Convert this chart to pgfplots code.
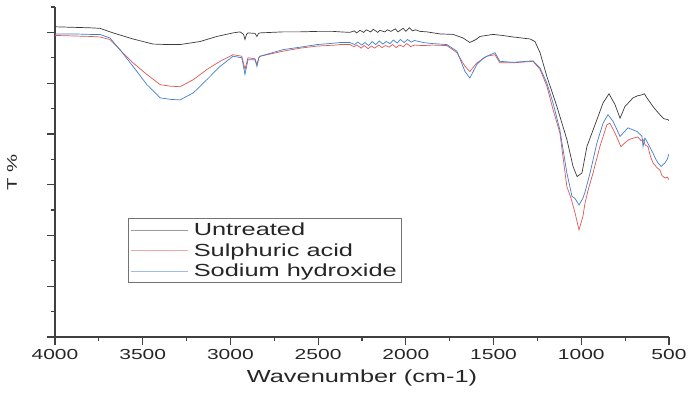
\documentclass[border=0pt]{standalone}
\usepackage{fontspec}
\setmainfont{Liberation Sans}[FakeStretch=1.45]
\usepackage{pgfplots}
\pgfplotsset{compat=1.18}
\definecolor{cU}{HTML}{3A3A3A}
\definecolor{cS}{HTML}{E05555}
\definecolor{cN}{HTML}{3F7FCF}
\newcommand{\lph}{\vphantom{Sdhyp}}
\begin{document}
\begin{tikzpicture}
\useasboundingbox (-55pt,-56pt) rectangle (634pt,337pt);
\begin{axis}[
  at={(0,0)}, anchor=south west,
  scale only axis, width=614pt, height=330pt,
  x dir=reverse,
  xmin=500, xmax=4000, ymin=0, ymax=65,
  axis x line=bottom, axis y line=left,
  axis line style={-, line width=1.2pt, black!75},
  xtick={500,1000,...,4000},
  minor x tick num=1,
  ytick={0,10,...,60},
  minor ytick={5,15,...,65},
  yticklabels={},
  tick align=outside,
  major tick length=8pt, minor tick length=4pt,
  every tick/.style={line width=1.2pt, black!75},
  /pgf/number format/assume math mode=true,
  /pgf/number format/set thousands separator={},
  xticklabel style={font=\fontsize{14.5}{16}\selectfont, text=black!85, anchor=base, yshift=-15pt},
  xlabel={Wavenumber (cm-1)},
  xlabel style={font=\fontsize{17.5}{20}\selectfont, text=black!85, at={(rel axis cs:0.5,0)}, anchor=base, yshift=-46pt},
  ylabel={T \%},
  ylabel style={font=\fontsize{14}{16}\selectfont, text=black!85, at={(axis description cs:-0.070,0.5)}, anchor=center},
  legend style={at={(0.119,0.36)}, anchor=north west, draw=black!55, line width=0.8pt,
    font=\fontsize{17.5}{20}\selectfont, text=black!85, row sep=2.2pt, column sep=3pt, inner sep=2.5pt},
  legend cell align=left,
  legend image code/.code={\draw[#1, line width=0.8pt, opacity=0.5] (0pt,0pt) -- (57pt,0pt);},
]
\addplot[cU, line width=0.7pt] coordinates {
(4000,61.1) (3900,61.0) (3800,60.9) (3744,60.8) (3669,59.9) (3555,58.7) (3441,57.7) (3360,57.6) (3287,57.6) (3173,58.2) (3077,59.2) (2985,59.9) (2945,60.1) (2925,59.6) (2917,58.6) (2908,59.6) (2900,59.9) (2860,59.8) (2849,59.2) (2840,59.8) (2831,59.9) (2700,60.1) (2604,60.1) (2500,60.2) (2416,60.2) (2375,60.1) (2319,60.0) (2295,60.3) (2280,59.9) (2262,60.4) (2240,60.0) (2225,60.5) (2200,60.1) (2185,60.6) (2160,60.0) (2148,60.4) (2120,60.1) (2105,60.5) (2085,60.2) (2060,60.7) (2045,60.1) (2015,60.8) (2000,60.2) (1980,60.9) (1962,60.3) (1945,60.5) (1920,60.2) (1880,60.1) (1806,59.7) (1731,59.6) (1674,58.9) (1635,58.0) (1600,58.6) (1577,59.2) (1503,59.6) (1450,59.4) (1389,59.1) (1292,58.7) (1264,58.2) (1235,56.0) (1196,51.3) (1139,45.4) (1082,38.9) (1047,33.6) (1024,31.6) (996,32.3) (968,37.5) (911,42.8) (876,46.1) (842,47.9) (808,45.8) (779,43.1) (751,45.4) (705,47.1) (680,47.5) (654,47.7) (640,47.9) (626,47.1) (591,45.4) (570,44.5) (552,43.8) (530,43.0) (505,42.8) (500,42.6)
};
\addlegendentry{\lph Untreated}
\addplot[cS, line width=0.7pt] coordinates {
(4000,59.4) (3900,59.3) (3800,59.2) (3744,59.1) (3687,58.6) (3630,56.6) (3555,54.0) (3476,51.7) (3400,49.7) (3340,49.4) (3287,49.3) (3211,50.7) (3134,52.7) (3059,54.3) (2985,55.6) (2935,55.3) (2917,52.7) (2900,55.0) (2860,54.8) (2849,53.7) (2838,55.0) (2831,55.3) (2700,56.3) (2600,56.9) (2506,57.3) (2400,57.5) (2375,57.6) (2319,57.6) (2297,57.2) (2278,57.5) (2255,56.9) (2238,57.4) (2215,56.8) (2196,57.3) (2178,56.9) (2155,57.5) (2136,57.0) (2117,57.4) (2095,57.1) (2076,57.6) (2055,57.0) (2036,57.5) (2014,57.2) (1995,57.8) (1973,57.2) (1950,57.5) (1900,57.4) (1850,57.5) (1766,57.4) (1709,56.0) (1663,53.3) (1635,52.3) (1595,54.0) (1560,54.8) (1538,55.3) (1492,55.6) (1464,54.0) (1389,54.0) (1275,54.3) (1235,52.7) (1196,49.4) (1161,44.8) (1122,40.2) (1082,29.6) (1060,27.5) (1036,24.5) (1013,21.1) (991,23.7) (979,26.3) (962,28.8) (933,32.3) (894,37.5) (854,41.8) (837,42.1) (808,40.2) (774,37.5) (750,38.3) (728,38.9) (700,39.2) (677,39.4) (660,38.7) (648,38.9) (635,37.8) (620,37.5) (605,35.5) (591,34.3) (570,33.4) (552,32.9) (540,31.8) (523,31.3) (510,31.5) (500,31.0)
};
\addlegendentry{\lph Sulphuric acid}
\addplot[cN, line width=0.7pt] coordinates {
(4000,59.7) (3900,59.7) (3800,59.6) (3744,59.6) (3687,58.9) (3630,56.6) (3555,53.3) (3476,49.7) (3400,47.1) (3340,46.8) (3287,46.7) (3211,48.1) (3134,50.7) (3059,53.3) (2985,55.3) (2935,55.0) (2917,51.7) (2900,54.6) (2860,54.6) (2849,53.3) (2838,55.0) (2831,55.3) (2700,56.6) (2600,57.1) (2506,57.6) (2400,57.9) (2375,58.0) (2319,58.0) (2292,57.6) (2274,58.1) (2252,57.5) (2233,58.0) (2212,57.4) (2192,58.2) (2172,57.6) (2151,58.3) (2131,57.7) (2112,58.2) (2090,57.8) (2071,58.5) (2050,57.9) (2031,58.6) (2010,58.0) (1991,58.6) (1970,58.1) (1950,58.4) (1900,58.0) (1850,57.8) (1766,57.6) (1709,56.3) (1663,52.3) (1635,51.0) (1595,53.7) (1560,54.9) (1538,55.3) (1492,56.0) (1464,54.3) (1389,54.1) (1275,54.4) (1235,53.0) (1196,50.0) (1161,46.1) (1122,40.8) (1082,32.3) (1053,27.7) (1036,27.3) (1013,26.0) (991,27.3) (979,28.5) (950,32.3) (911,38.2) (876,42.1) (848,43.8) (819,42.5) (779,39.5) (734,41.2) (683,40.5) (654,39.5) (648,37.5) (637,39.2) (615,37.8) (591,36.2) (575,35.0) (563,34.3) (545,33.6) (523,34.3) (510,35.0) (500,36.1)
};
\addlegendentry{\lph Sodium hydroxide}
\end{axis}
\end{tikzpicture}
\end{document}
